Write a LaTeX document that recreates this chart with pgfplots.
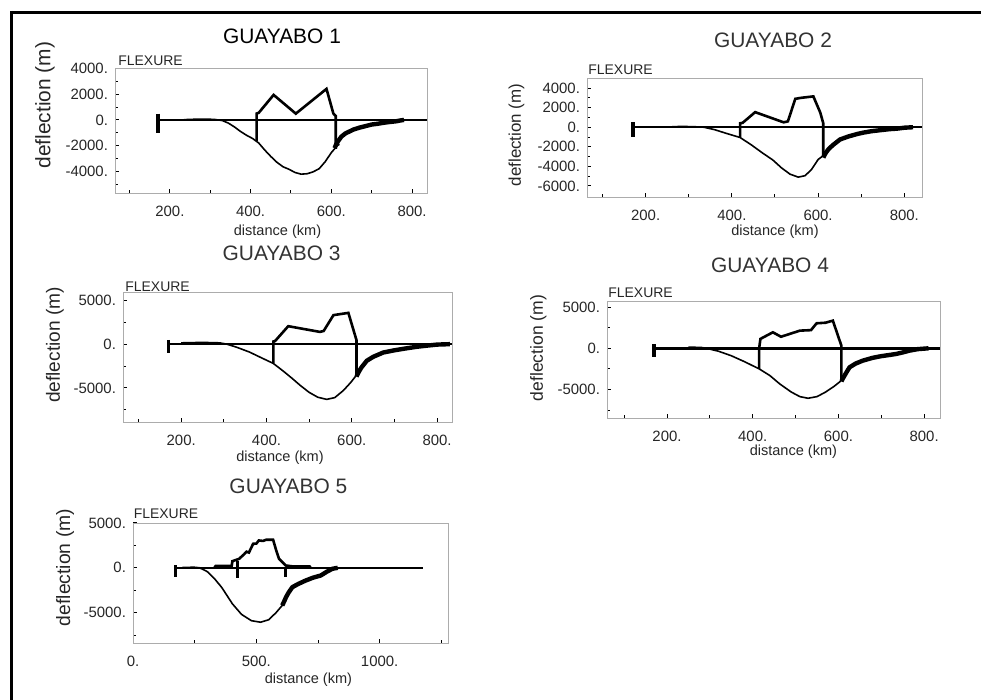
\documentclass[border=0pt]{standalone}
\usepackage{fontspec}
\setmainfont{Liberation Sans}
\usepackage{pgfplots}
\pgfplotsset{compat=1.18}

\pgfplotsset{
  flex/.style={
    scale only axis, anchor=south west,
    tick align=inside, xtick pos=bottom, ytick pos=left,
    axis line style={gray!65},
    tick style={black, line width=0.5bp},
    major tick length=2.2bp, minor tick length=1.4bp,
    ticklabel style={font=\fontsize{7.5}{8}\selectfont, black!85},
    xticklabel style={yshift=-3bp},
  },
  zero/.style={black, line width=1.2bp},
  bar/.style={black, line width=1.8bp},
  curve/.style={black, line width=0.8bp},
  rag/.style={black, line width=2.2bp, line join=round},
  topo/.style={black, line width=1.3bp},
}
\newcommand{\ttl}{\fontsize{10.5}{12}\selectfont}
\newcommand{\lab}{\fontsize{7.3}{8}\selectfont}
\newcommand{\flx}{\fontsize{7}{8}\selectfont}

\begin{document}
\begin{tikzpicture}
\useasboundingbox (0,0) rectangle (490.5bp,350bp);
\draw[line width=1.6bp] (5bp,343.75bp) -- (490.5bp,343.75bp);
\draw[line width=1.6bp] (5.85bp,344.5bp) -- (5.85bp,0);

% GUAYABO 1
\begin{axis}[flex, at={(57.5bp,253.5bp)}, width=156bp, height=62.5bp,
  xmin=64, xmax=837, ymin=-5700, ymax=4050,
  xtick={200,400,600,800}, xticklabels={200.,400.,600.,800.},
  ytick={-4000,-2000,0,2000,4000}, yticklabels={-4000.,-2000.,0.,2000.,4000.},
  minor xtick={100,300,500,700}, minor ytick={-5000,-3000,-1000,1000,3000}]
\addplot[zero] coordinates {(170,0)(837,0)};
\addplot[bar] coordinates {(170,500)(170,-1000)};
\addplot[curve] coordinates {(235,20)(250,40)(270,60)(290,60)(310,40)(330,-50)(345,-250)(360,-550)(375,-900)(390,-1200)(405,-1450)(420,-1800)(435,-2350)(450,-2850)(465,-3300)(480,-3650)(495,-3850)(510,-4100)(525,-4230)(540,-4200)(555,-4050)(570,-3800)(585,-3250)(600,-2550)(615,-2000)(620,-1900)};
\addplot[rag] coordinates {(608,-2200)(612,-1900)(618,-1600)(625,-1300)(635,-1050)(645,-900)(655,-750)(670,-600)(685,-480)(700,-360)(715,-300)(730,-220)(745,-160)(760,-110)(770,-50)(780,0)};
\addplot[topo] coordinates {(415,-1630)(415,500)(420,550)(457,1950)(512,490)(588,2420)(605,500)(611,300)(611,-2250)};
\end{axis}
\node[font=\ttl] at (141bp,332bp) {GUAYABO 1};
\node[font=\fontsize{10.5}{12}\selectfont, rotate=90, black!85] at (22.5bp,297.5bp) {deflection (m)};
\node[font=\flx, anchor=west, inner sep=0pt, black!85] at (59bp,319.5bp) {FLEXURE};
\node[font=\lab, black!85] at (138.75bp,234bp) {distance (km)};

% GUAYABO 2
\begin{axis}[flex, at={(293.5bp,251.5bp)}, width=167.5bp, height=59.5bp,
  xmin=64, xmax=841, ymin=-7130, ymax=5030,
  xtick={200,400,600,800}, xticklabels={200.,400.,600.,800.},
  ytick={-6000,-4000,-2000,0,2000,4000}, yticklabels={-6000.,-4000.,-2000.,0.,2000.,4000.},
  minor xtick={100,300,500,700}, minor ytick={-5000,-3000,-1000,1000,3000}]
\addplot[zero] coordinates {(170,0)(841,0)};
\addplot[bar] coordinates {(170,500)(170,-1000)};
\addplot[curve] coordinates {(250,20)(280,80)(310,60)(335,0)(360,-250)(385,-600)(419,-1050)(445,-1800)(470,-2600)(495,-3350)(515,-4150)(535,-4800)(554,-5100)(570,-4950)(585,-4300)(600,-3300)(612,-2900)};
\addplot[rag] coordinates {(612,-3100)(618,-2600)(625,-2200)(635,-1800)(651,-1250)(670,-950)(690,-700)(705,-550)(725,-400)(745,-300)(765,-200)(782,-150)(800,-50)(820,0)};
\addplot[topo] coordinates {(419,-1000)(419,400)(425,450)(454,1540)(520,500)(530,600)(547,2900)(560,3000)(589,3150)(605,1500)(612,400)(612,-3000)};
\end{axis}
\node[font=\ttl, black!80] at (386.5bp,330bp) {GUAYABO 2};
\node[font=\fontsize{8.5}{10}\selectfont, rotate=90, black!85] at (258.3bp,282.5bp) {deflection (m)};
\node[font=\flx, anchor=west, inner sep=0pt, black!85] at (294bp,315bp) {FLEXURE};
\node[font=\lab, black!85] at (387.5bp,234bp) {distance (km)};

% GUAYABO 3
\begin{axis}[flex, at={(61.5bp,139bp)}, width=164.5bp, height=65bp,
  xmin=63.5, xmax=835, ymin=-8880, ymax=5950,
  xtick={200,400,600,800}, xticklabels={200.,400.,600.,800.},
  ytick={-5000,0,5000}, yticklabels={-5000.,0.,5000.},
  minor xtick={100,300,500,700}, minor ytick={-7500,-2500,2500}]
\addplot[zero] coordinates {(170,0)(835,0)};
\addplot[bar] coordinates {(170,500)(170,-1000)};
\addplot[curve] coordinates {(200,150)(250,200)(290,150)(307,0)(330,-350)(360,-900)(390,-1600)(416,-2200)(440,-3100)(460,-3900)(479,-4700)(500,-5500)(520,-6050)(541,-6300)(560,-6100)(580,-5300)(597,-4400)(611,-3540)};
\addplot[rag] coordinates {(611,-3700)(616,-3200)(622,-2700)(635,-1900)(650,-1450)(674,-950)(700,-700)(725,-500)(752,-300)(780,-150)(800,-50)(830,0)};
\addplot[topo] coordinates {(416,-2200)(416,300)(420,350)(451,2050)(525,1400)(534,1500)(557,3310)(592,3570)(611,460)(611,-3540)};
\end{axis}
\node[font=\ttl, black!80] at (140.8bp,223.3bp) {GUAYABO 3};
\node[font=\fontsize{9.6}{11}\selectfont, rotate=90, black!85] at (27.5bp,177.5bp) {deflection (m)};
\node[font=\flx, anchor=west, inner sep=0pt, black!85] at (62.5bp,206.7bp) {FLEXURE};
\node[font=\lab, black!85] at (140bp,121bp) {distance (km)};

% GUAYABO 4
\begin{axis}[flex, at={(303.5bp,141bp)}, width=166.5bp, height=58.5bp,
  xmin=60, xmax=837, ymin=-8440, ymax=5730,
  xtick={200,400,600,800}, xticklabels={200.,400.,600.,800.},
  ytick={-5000,0,5000}, yticklabels={-5000.,0.,5000.},
  minor xtick={100,300,500,700}, minor ytick={-7500,-2500,2500}]
\addplot[zero] coordinates {(170,0)(837,0)};
\addplot[bar] coordinates {(170,500)(170,-1000)};
\addplot[curve] coordinates {(250,150)(280,100)(292,0)(320,-350)(350,-900)(380,-1600)(415,-2490)(440,-3300)(463,-4310)(490,-5300)(510,-5850)(529,-6050)(550,-5850)(570,-5300)(590,-4600)(607,-3900)};
\addplot[rag] coordinates {(607,-4000)(612,-3500)(620,-2800)(626,-2300)(640,-1850)(657,-1490)(680,-1150)(700,-950)(720,-800)(735,-680)(750,-500)(766,-280)(785,-100)(810,0)};
\addplot[topo] coordinates {(415,-2490)(415,0)(418,1140)(447,1940)(466,1400)(510,2140)(536,2200)(549,3030)(570,3100)(587,3350)(607,300)(607,-3900)};
\end{axis}
\node[font=\ttl, black!80] at (385bp,217.5bp) {GUAYABO 4};
\node[font=\fontsize{8.8}{10}\selectfont, rotate=90, black!85] at (269.2bp,176bp) {deflection (m)};
\node[font=\flx, anchor=west, inner sep=0pt, black!85] at (304bp,203.7bp) {FLEXURE};
\node[font=\lab, black!85] at (396.7bp,124bp) {distance (km)};

% GUAYABO 5
\begin{axis}[flex, at={(66.5bp,28.5bp)}, width=157.5bp, height=60bp,
  xmin=0, xmax=1277, ymin=-8390, ymax=5000,
  xtick={0,500,1000}, xticklabels={0.,500.,1000.},
  ytick={-5000,0,5000}, yticklabels={-5000.,0.,5000.},
  minor xtick={250,750,1250}, minor ytick={-7500,-2500,2500}]
\addplot[zero] coordinates {(173,0)(1176,0)};
\addplot[bar] coordinates {(173,260)(173,-1050)};
\addplot[bar] coordinates {(424,740)(424,-1100)};
\addplot[bar] coordinates {(618,0)(618,-1000)};
\addplot[curve] coordinates {(200,50)(250,60)(270,0)(300,-400)(330,-1200)(360,-2200)(403,-4020)(440,-5200)(480,-5900)(517,-6070)(550,-5800)(580,-5000)(605,-4200)(619,-3650)};
\addplot[rag] coordinates {(605,-4200)(612,-3800)(620,-3300)(630,-2800)(646,-2160)(670,-1800)(700,-1420)(730,-1100)(761,-860)(785,-450)(808,-110)(830,0)};
\addplot[topo] coordinates {(330,0)(335,200)(400,200)(403,740)(430,1000)(450,1500)(460,1800)(470,1700)(487,2680)(500,2700)(510,3050)(527,3000)(540,3130)(568,3130)(580,2000)(592,1000)(619,260)(650,150)(716,150)(720,0)};
\end{axis}
\node[font=\ttl, black!80] at (144.2bp,107bp) {GUAYABO 5};
\node[font=\fontsize{9.7}{11}\selectfont, rotate=90, black!85] at (32.5bp,66.25bp) {deflection (m)};
\node[font=\flx, anchor=west, inner sep=0pt, black!85] at (66.7bp,93.3bp) {FLEXURE};
\node[font=\lab, black!85] at (154.2bp,10bp) {distance (km)};
\end{tikzpicture}
\end{document}
